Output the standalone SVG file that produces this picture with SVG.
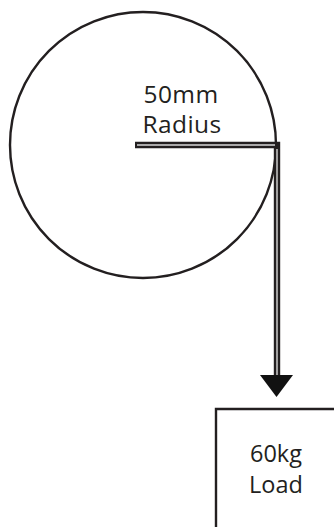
<svg xmlns="http://www.w3.org/2000/svg" width="334" height="527" viewBox="0 0 334 527">
<style>
.o{fill:none;stroke:#231f20;stroke-width:2.4}
.s{fill:none;stroke:#231f20;stroke-width:6.4;stroke-linejoin:miter}
.i{fill:none;stroke:#d8d8d8;stroke-width:1.4}
text{font-family:"Open Sans","Noto Sans",sans-serif;font-size:24.500px;letter-spacing:.4px;fill:#231f20;text-anchor:middle}
.b{font-size:23.500px;letter-spacing:0}
</style>
<rect width="334" height="527" fill="#fff"/>
<g id="wheel"><circle class="o" cx="143" cy="145" r="133"/></g>
<g id="radius-label"><text x="181" y="102.500">50mm</text><text x="182" y="133">Radius</text></g>
<g id="connectors">
<path class="s" d="M135 145H277V377"/>
<path class="i" d="M137 145H275"/>
<path class="i" d="M277 149V376"/>
<polygon points="260,375 293,375 276.500,397" fill="#111"/>
</g>
<g id="load">
<path class="o" d="M216 527V409H334"/>
<text class="b" x="276" y="461.500">60kg</text><text class="b" x="276" y="492.500">Load</text>
</g>
</svg>
